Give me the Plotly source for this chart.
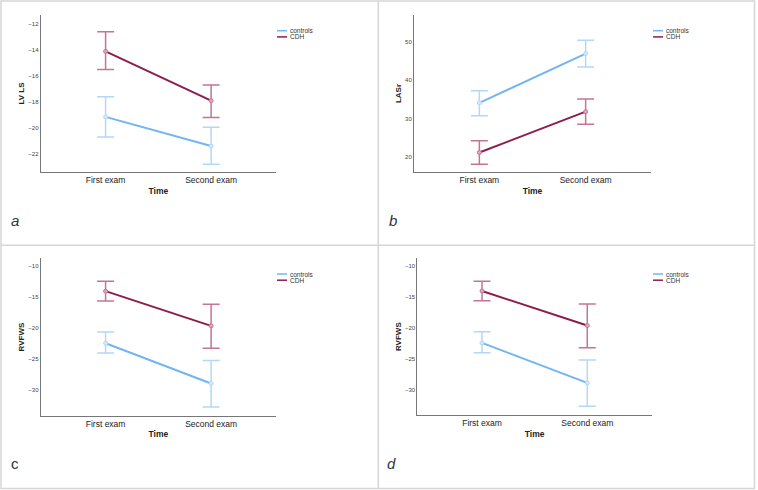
import plotly.graph_objects as go

W, H = 758, 490

categories = ["First exam", "Second exam"]
series_names = ["controls", "CDH"]

# Panel a: LV LS
a_controls = [-19.15, -21.4]
a_controls_hi = [-17.6, -19.95]
a_controls_lo = [-20.7, -22.8]
a_cdh = [-14.1, -17.9]
a_cdh_hi = [-12.6, -16.7]
a_cdh_lo = [-15.5, -19.2]

# Panel b: LASr
b_controls = [34.1, 47.0]
b_controls_hi = [37.3, 50.5]
b_controls_lo = [30.7, 43.5]
b_cdh = [21.1, 31.8]
b_cdh_hi = [24.2, 35.1]
b_cdh_lo = [18.0, 28.5]

# Panels c and d: RVFWS
c_controls = [-22.4, -28.9]
c_controls_hi = [-20.6, -25.2]
c_controls_lo = [-24.0, -32.7]
c_cdh = [-14.0, -19.6]
c_cdh_hi = [-12.4, -16.1]
c_cdh_lo = [-15.6, -23.2]

a_ticks = [-22, -20, -18, -16, -14, -12]
b_ticks = [20, 30, 40, 50]
c_ticks = [-30, -25, -20, -15, -10]

panels = [
    dict(letter="a", italic=True, ytitle="LV LS", ticks=a_ticks, yrange=[-23.4, -11.3],
         data=[(a_controls, a_controls_hi, a_controls_lo), (a_cdh, a_cdh_hi, a_cdh_lo)],
         xd=(40.7, 276), yd=(15, 172), letter_pos=(15, 220), leg=(277, 30.7)),
    dict(letter="b", italic=True, ytitle="LASr", ticks=b_ticks, yrange=[16.0, 57.1],
         data=[(b_controls, b_controls_hi, b_controls_lo), (b_cdh, b_cdh_hi, b_cdh_lo)],
         xd=(414, 651), yd=(15, 172), letter_pos=(393, 220), leg=(653, 30.7)),
    dict(letter="c", italic=False, ytitle="RVFWS", ticks=c_ticks, yrange=[-34.1, -8.7],
         data=[(c_controls, c_controls_hi, c_controls_lo), (c_cdh, c_cdh_hi, c_cdh_lo)],
         xd=(40.7, 276), yd=(258.3, 415.7), letter_pos=(15, 463), leg=(277, 274)),
    dict(letter="d", italic=True, ytitle="RVFWS", ticks=c_ticks, yrange=[-34.1, -8.7],
         data=[(c_controls, c_controls_hi, c_controls_lo), (c_cdh, c_cdh_hi, c_cdh_lo)],
         xd=(417.3, 652), yd=(258.3, 415), letter_pos=(391, 463), leg=(653, 274)),
]

line_colors = ["#72b4f4", "#8c1d4d"]
err_colors = ["#b3d8f7", "#c27595"]
marker_fill = ["#d6eafc", "#dcaabf"]

FONT = "Liberation Sans, Arial, Helvetica, sans-serif"

fig = go.Figure()
layout = dict(
    width=W, height=H, margin=dict(l=0, r=0, t=0, b=0),
    paper_bgcolor="white", plot_bgcolor="white", showlegend=False,
    font=dict(family=FONT, color="#222"),
)
shapes = []
annotations = []

def px(x):
    return x / W

def py(y):
    return 1 - y / H

for i, p in enumerate(panels):
    n = "" if i == 0 else str(i + 1)
    xa, ya = "x" + n, "y" + n
    for s, (vals, hi, lo) in enumerate(p["data"]):
        fig.add_trace(go.Scatter(
            x=categories, y=vals, xaxis=xa, yaxis=ya, mode="lines+markers",
            name=series_names[s],
            line=dict(color=line_colors[s], width=2),
            marker=dict(size=4, color=marker_fill[s], line=dict(color=err_colors[s], width=1)),
            error_y=dict(type="data", symmetric=False,
                         array=[h - v for h, v in zip(hi, vals)],
                         arrayminus=[v - l for v, l in zip(vals, lo)],
                         color=err_colors[s], thickness=1.5, width=8.5),
        ))
    layout["xaxis" + n] = dict(
        domain=[px(p["xd"][0]), px(p["xd"][1])], anchor=ya, type="category",
        range=[-0.615, 1.615], showline=True, linecolor="#777", linewidth=1,
        showgrid=False, zeroline=False, ticks="", tickfont=dict(size=8.5, color="#222"),
        title=dict(text="<b>Time</b>", font=dict(size=8.5, color="#222"), standoff=3),
        fixedrange=True,
    )
    layout["yaxis" + n] = dict(
        domain=[py(p["yd"][1]), py(p["yd"][0])], anchor=xa, range=p["yrange"],
        tickvals=p["ticks"], showline=True, linecolor="#777", linewidth=1,
        showgrid=False, zeroline=False, ticks="", tickfont=dict(size=6, color="#444"),
        title=dict(text="<b>" + p["ytitle"] + "</b>", font=dict(size=8, color="#222"), standoff=2),
        fixedrange=True,
    )
    lx, ly = p["letter_pos"]
    txt = "<i>" + p["letter"] + "</i>" if p["italic"] else p["letter"]
    annotations.append(dict(x=px(lx), y=py(ly), xref="paper", yref="paper", text=txt,
                            showarrow=False, font=dict(size=15, color="#2b3442"),
                            xanchor="center", yanchor="middle"))
    gx, gy = p["leg"]
    for s in range(2):
        yy = gy + s * 6.2
        shapes.append(dict(type="line", xref="paper", yref="paper",
                           x0=px(gx), x1=px(gx + 10), y0=py(yy), y1=py(yy),
                           line=dict(color=line_colors[s], width=1.5)))
        annotations.append(dict(x=px(gx + 10.5), y=py(yy), xref="paper", yref="paper",
                                text=series_names[s], showarrow=False,
                                font=dict(size=6.5, color="#333"),
                                xanchor="left", yanchor="middle"))

# panel frame
frame = "#d6d6d6"
shapes.append(dict(type="rect", xref="paper", yref="paper", x0=px(1), x1=px(754.5),
                   y0=py(488.5), y1=py(1), line=dict(color=frame, width=1.5)))
shapes.append(dict(type="line", xref="paper", yref="paper", x0=px(378.3), x1=px(378.3),
                   y0=py(488.5), y1=py(1), line=dict(color=frame, width=1.5)))
shapes.append(dict(type="line", xref="paper", yref="paper", x0=px(1), x1=px(754.5),
                   y0=py(245.3), y1=py(245.3), line=dict(color=frame, width=1.5)))

layout["shapes"] = shapes
layout["annotations"] = annotations
fig.update_layout(**layout)
fig.write_html("out.html", config={"displayModeBar": False})
